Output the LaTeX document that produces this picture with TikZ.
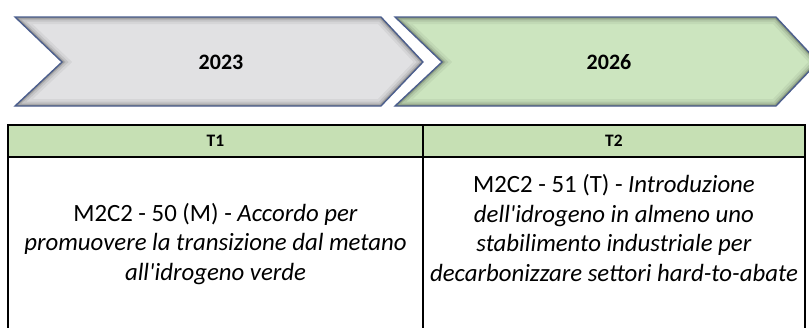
\documentclass[tikz,border=0pt]{standalone}
\usepackage{fontspec}
\setmainfont{Carlito}
\usepackage{tikz}
\usetikzlibrary{positioning}
\definecolor{greyfill}{HTML}{E1E1E3}
\definecolor{greenfill}{HTML}{CCE5BF}
\definecolor{edgeblue}{HTML}{4B5E8E}
\definecolor{headgreen}{HTML}{C6E0B4}

\begin{document}
\begin{tikzpicture}[x=1pt, y=-1pt,
  chevron/.style={draw=edgeblue, line width=1.3pt, line join=miter},
  year/.style={font=\fontsize{22}{26}\selectfont\bfseries},
  head/.style={font=\fontsize{17.5}{20}\selectfont\bfseries},
  cell/.style={align=center, inner sep=0pt,
    font=\fontsize{24.8}{29.5}\selectfont},
  rule/.style={line width=1.3pt}]
\clip (0,0) rectangle (809,327);
\fill[white] (0,0) rectangle (809,327);
% timeline chevrons
\foreach \xa/\xb/\col in {15/381/greyfill, 395/776/greenfill}{
  \fill[\col] (\xa,17) -- (\xb,17) -- (\xb+42,62) -- (\xb,106)
    -- (\xa,106) -- (\xa+47,62) -- cycle;
  \begin{scope}
    \clip (\xa,17) -- (\xb,17) -- (\xb+42,62) -- (\xb,106)
      -- (\xa,106) -- (\xa+47,62) -- cycle;
    \foreach \w/\o in {14/0.05, 9/0.08, 5/0.12, 2.5/0.18}
      \draw[line width=\w pt, black, opacity=\o] (\xa,17) -- (\xb,17)
        -- (\xb+42,62) -- (\xb,106) -- (\xa,106) -- (\xa+47,62) -- cycle;
  \end{scope}
  \draw[chevron] (\xa,17) -- (\xb,17) -- (\xb+42,62) -- (\xb,106)
    -- (\xa,106) -- (\xa+47,62) -- cycle;
}
\node[year] (y2023) at (221,62) {2023};
\node[year] (y2026) at (609,62) {2026};
% table
\fill[headgreen] (8,125) rectangle (805,157);
\draw[rule] (8,157) -- (8,331);
\draw[rule] (423,125) -- (423,331);
\draw[rule] (805,157) -- (805,331);
\draw[line width=2.4pt] (8,125) rectangle (805,157);
\node[head] (t1) at (215.5,141) {T1};
\node[head] (t2) at (614,141) {T2};
\node[cell] (m50) at (215.5,244) {M2C2 - 50 (M) - \textit{Accordo per}\\
  \textit{promuovere la transizione dal metano}\\
  \textit{all\textquotesingle idrogeno verde}};
\node[cell] (m51) at (614,228) {M2C2 - 51 (T) - \textit{Introduzione}\\
  \textit{dell\textquotesingle idrogeno in almeno uno}\\
  \textit{stabilimento industriale per}\\
  \textit{decarbonizzare settori hard-to-abate}};
\end{tikzpicture}
\end{document}
